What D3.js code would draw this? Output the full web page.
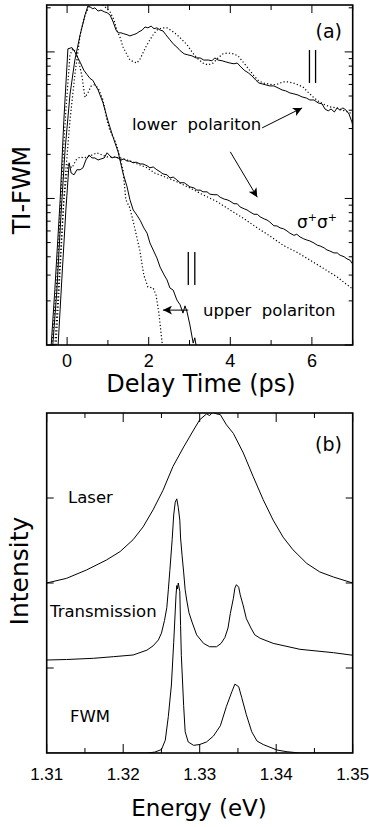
<!DOCTYPE html>
<html><head><meta charset="utf-8">
<script src="https://cdn.jsdelivr.net/npm/d3@7"></script>
<style>
html,body{margin:0;padding:0;background:#fff;}
svg{display:block;}
text{font-family:"DejaVu Sans",sans-serif;fill:#000;}
text.tl{font-family:"Liberation Sans",Arial,sans-serif;}
</style></head><body>
<svg id="c" width="369" height="827"></svg>
<script>
// ---------- Panel (a): TI-FWM vs delay time (ps), log intensity ----------
const delayTicks = [0,1,2,3,4,5,6,7];
const delayLabels = [0,2,4,6];
const lpSolid = [[-0.35,1.0],[-0.25,2.37],[-0.15,7.7],[-0.05,21.4],[0.07,51],[0.19,88],[0.32,131],[0.44,179],[0.51,206],[0.56,203],[0.63,197],[0.68,200],[0.76,190],[0.83,193],[0.91,188],[0.98,185],[1.05,179],[1.13,160],[1.20,141],[1.25,135],[1.32,135],[1.39,133],[1.47,131],[1.54,128.6],[1.62,131],[1.69,133],[1.76,137],[1.84,141],[1.91,148],[1.98,146],[2.06,150],[2.13,144],[2.20,146],[2.28,141],[2.35,139],[2.42,131],[2.52,121],[2.62,112],[2.69,108],[2.77,102],[2.87,97],[2.96,95.5],[3.06,94],[3.16,91],[3.26,91],[3.35,88],[3.46,88],[3.55,87],[3.62,91],[3.70,88],[3.80,87],[3.89,85.5],[3.99,84],[4.09,83],[4.17,84],[4.24,80],[4.34,75],[4.44,72],[4.53,68.6],[4.63,64],[4.70,61.4],[4.78,60.5],[4.87,59.6],[4.97,58.6],[5.07,58.6],[5.17,56.8],[5.27,55],[5.36,54.2],[5.46,52.5],[5.56,51.7],[5.66,50.8],[5.76,49.3],[5.86,48.5],[5.95,47],[6.05,47],[6.15,44.9],[6.25,44.2],[6.32,40.8],[6.40,39.6],[6.47,40.8],[6.55,38.9],[6.62,41.5],[6.69,40],[6.76,41.5],[6.84,40],[6.91,37.7],[6.98,33.3],[7.0,31.7]];
const lpDotted = [[-0.30,1.0],[-0.17,3.8],[-0.05,13.4],[0.07,34],[0.19,69.7],[0.32,131],[0.44,179],[0.56,209],[0.68,219],[0.81,216],[0.93,203],[1.05,188],[1.15,165],[1.22,141],[1.30,125],[1.37,108],[1.47,95.5],[1.54,88],[1.64,85.5],[1.71,84],[1.79,89.6],[1.86,98.5],[1.93,108],[2.03,121],[2.11,131],[2.20,141],[2.33,146],[2.45,146],[2.57,139],[2.69,131],[2.82,121],[2.94,112],[3.06,100],[3.18,91],[3.33,84],[3.45,81.5],[3.58,84],[3.70,91],[3.82,97],[3.94,98.5],[4.07,97],[4.19,94],[4.31,85.5],[4.43,77.8],[4.56,69.7],[4.68,64],[4.80,61.4],[4.93,60.5],[5.05,59.6],[5.17,60.5],[5.29,62.4],[5.41,62.4],[5.54,61.4],[5.66,59.6],[5.78,57.7],[5.90,53.3],[6.03,49.3],[6.15,46.3],[6.27,44.2],[6.44,42.2],[6.61,41.5],[6.76,40],[6.93,38.4],[7.0,37.2]];
const ssSolid = [[-0.22,1.0],[-0.13,2.78],[-0.03,8.35],[0.05,17.5],[0.10,14.9],[0.17,14.5],[0.24,15.7],[0.32,15.7],[0.39,16.2],[0.46,18.3],[0.54,19.8],[0.61,18.9],[0.68,18.9],[0.76,18.3],[0.83,18.6],[0.91,18.9],[0.98,20.5],[1.03,19.8],[1.10,18.9],[1.17,19.2],[1.25,18.9],[1.32,18.3],[1.39,18.6],[1.47,18.0],[1.54,18.0],[1.62,17.5],[1.69,17.7],[1.79,17.2],[1.86,17.2],[1.96,16.7],[2.03,16.2],[2.11,16.4],[2.20,15.7],[2.28,15.2],[2.35,14.7],[2.45,14.5],[2.52,13.8],[2.60,14.0],[2.69,13.4],[2.77,12.8],[2.87,12.8],[2.94,12.4],[3.01,12.0],[3.11,11.8],[3.18,11.4],[3.26,11.4],[3.33,11.1],[3.43,11.1],[3.50,10.7],[3.60,10.6],[3.68,10.6],[3.75,10.2],[3.85,9.9],[3.92,9.8],[3.99,9.6],[4.09,9.2],[4.17,9.2],[4.24,8.75],[4.34,8.5],[4.41,8.35],[4.48,8.1],[4.58,7.8],[4.66,7.8],[4.73,7.5],[4.83,7.25],[4.90,7.13],[4.97,6.9],[5.07,6.5],[5.14,6.5],[5.22,6.3],[5.31,6.2],[5.39,6.0],[5.46,5.8],[5.56,5.6],[5.63,5.7],[5.71,5.46],[5.80,5.3],[5.88,5.2],[5.95,5.13],[6.05,4.97],[6.13,4.8],[6.20,4.74],[6.30,4.6],[6.37,4.45],[6.44,4.38],[6.54,4.25],[6.62,4.25],[6.69,4.1],[6.79,4.0],[6.86,3.87],[6.93,3.8],[7.0,3.57]];
const ssDotted = [[-0.27,1.0],[-0.17,3.25],[-0.08,9.8],[0.02,16.9],[0.12,16.2],[0.22,18.3],[0.32,19.2],[0.41,18.9],[0.51,19.2],[0.61,19.8],[0.73,20.5],[0.86,19.8],[0.98,19.2],[1.13,19.2],[1.30,18.9],[1.47,18.3],[1.62,17.7],[1.79,16.9],[1.96,16.2],[2.15,14.9],[2.35,14.2],[2.52,13.6],[2.69,13.0],[3.01,11.8],[3.33,10.6],[3.68,9.5],[3.99,8.35],[4.31,7.36],[4.66,6.3],[4.97,5.55],[5.29,4.8],[5.63,4.3],[5.95,3.8],[6.27,3.35],[6.62,2.91],[6.93,2.49],[7.0,2.41]];
const upSolid = [[-0.39,1.0],[-0.30,2.4],[-0.17,9.8],[-0.08,34],[0.02,105],[0.12,107],[0.19,100],[0.32,85],[0.41,75],[0.49,70],[0.56,66],[0.63,64],[0.76,55],[0.88,45],[1.00,34],[1.13,26],[1.25,20.8],[1.37,14.9],[1.47,12.0],[1.54,9.8],[1.62,8.35],[1.71,7.7],[1.79,7.1],[1.88,6.3],[1.96,5.8],[2.03,4.97],[2.11,4.45],[2.20,3.93],[2.28,3.4],[2.38,3.0],[2.45,2.78],[2.52,2.45],[2.60,2.37],[2.69,2.03],[2.77,1.88],[2.84,1.65],[2.89,1.85],[2.94,1.68],[3.01,1.37],[3.09,1.03],[3.13,1.12],[3.16,1.0]];
const upDotted = [[-0.37,1.0],[-0.25,2.78],[-0.13,13.4],[-0.03,40],[0.07,95],[0.14,105],[0.22,100],[0.29,85],[0.37,67],[0.41,55],[0.44,49],[0.51,52.5],[0.59,58.6],[0.66,59.6],[0.76,56.8],[0.88,47],[0.98,34],[1.05,29],[1.17,25],[1.25,21.4],[1.37,15.7],[1.44,9.8],[1.54,8.6],[1.64,6.6],[1.78,4.45],[1.88,3.0],[1.98,2.49],[2.11,2.45],[2.18,2.19],[2.25,1.65],[2.33,1.03]];

// ---------- Panel (b): spectra vs energy (eV), offset linear ----------
const energyTicks = [1.31,1.315,1.32,1.325,1.33,1.335,1.34,1.345,1.35];
const energyLabels = ["1.31","1.32","1.33","1.34","1.35"];
const intensityTicks = [1,2,3];
const laser = [[1.3100,2.00],[1.3126,2.055],[1.3152,2.153],[1.3178,2.27],[1.3196,2.37],[1.3213,2.51],[1.3226,2.66],[1.3239,2.86],[1.3252,3.09],[1.3265,3.37],[1.3279,3.60],[1.3292,3.80],[1.3300,3.92],[1.3309,3.99],[1.3313,3.97],[1.3317,4.01],[1.3322,3.99],[1.3327,3.98],[1.3335,3.86],[1.3344,3.76],[1.3357,3.53],[1.3370,3.25],[1.3383,2.98],[1.3396,2.74],[1.3409,2.54],[1.3422,2.39],[1.3440,2.23],[1.3457,2.13],[1.3475,2.07],[1.3500,2.00]];
const transmission = [[1.3100,1.094],[1.3126,1.10],[1.3161,1.114],[1.3187,1.133],[1.3213,1.153],[1.3231,1.21],[1.3239,1.26],[1.3246,1.33],[1.3250,1.41],[1.3254,1.56],[1.3257,1.71],[1.3259,1.92],[1.3261,2.15],[1.3264,2.51],[1.3266,2.80],[1.3268,2.95],[1.3270,2.99],[1.3272,2.89],[1.3274,2.74],[1.3275,2.53],[1.3277,2.32],[1.3279,2.13],[1.3281,1.92],[1.3283,1.80],[1.3286,1.65],[1.3290,1.54],[1.3296,1.39],[1.3305,1.29],[1.3313,1.25],[1.3322,1.25],[1.3328,1.29],[1.3333,1.36],[1.3337,1.47],[1.3340,1.64],[1.3344,1.82],[1.3346,1.94],[1.3348,1.98],[1.3351,1.95],[1.3353,1.86],[1.3357,1.73],[1.3361,1.58],[1.3367,1.47],[1.3372,1.39],[1.3379,1.35],[1.3396,1.29],[1.3431,1.22],[1.3475,1.18],[1.3500,1.15]];
const fwm = [[1.3100,0],[1.3231,0],[1.3241,0.01],[1.3250,0.04],[1.3255,0.15],[1.3259,0.43],[1.3263,0.8],[1.3266,1.3],[1.3269,1.85],[1.3270,1.97],[1.3271,1.93],[1.3272,2.0],[1.3274,1.9],[1.3275,1.5],[1.3276,1.15],[1.3279,0.56],[1.3281,0.25],[1.3285,0.13],[1.3292,0.09],[1.3300,0.1],[1.3309,0.13],[1.3318,0.2],[1.3327,0.32],[1.3335,0.55],[1.3342,0.72],[1.3346,0.81],[1.3351,0.78],[1.3355,0.65],[1.3361,0.45],[1.3368,0.25],[1.3375,0.14],[1.3383,0.1],[1.3401,0.035],[1.3414,0.015],[1.3431,0],[1.3500,0]];

// ---------- drawing ----------
const svg = d3.select("#c");
const A = {l:46.7, r:352.7, t:5, b:345};
const B = {l:46.7, r:352.7, t:413, b:753};
const xA = d3.scaleLinear().domain([-0.5,7]).range([A.l,A.r]);
const yA = d3.scaleLog().domain([1,209]).range([A.b,A.t]);
const xB = d3.scaleLinear().domain([1.31,1.35]).range([B.l,B.r]);
const yB = d3.scaleLinear().domain([0,4]).range([B.b,B.t]);

const defs = svg.append("defs");
[["clipA",A],["clipB",B]].forEach(([id,P])=>{
  defs.append("clipPath").attr("id",id).append("rect")
    .attr("x",P.l).attr("y",P.t).attr("width",P.r-P.l).attr("height",P.b-P.t);
});
defs.append("marker").attr("id","arr").attr("viewBox","0 0 10 10")
  .attr("refX",10).attr("refY",5).attr("markerWidth",11).attr("markerHeight",9)
  .attr("markerUnits","userSpaceOnUse").attr("orient","auto")
  .append("path").attr("d","M0,0 L10,5 L0,10 L2.5,5 Z").attr("fill","#000");

function frame(P){
  svg.append("rect").attr("x",P.l).attr("y",P.t).attr("width",P.r-P.l).attr("height",P.b-P.t)
    .attr("fill","none").attr("stroke","#000").attr("stroke-width",1.6);
}
function tick(x1,y1,x2,y2){
  svg.append("line").attr("x1",x1).attr("y1",y1).attr("x2",x2).attr("y2",y2)
    .attr("stroke","#000").attr("stroke-width",1);
}

// Panel (a) ticks
delayTicks.forEach(v=>{
  const len = v%2===0 ? 8 : 5, x = xA(v);
  tick(x,A.b,x,A.b-len); tick(x,A.t,x,A.t+len);
});
yA.ticks().forEach(v=>{
  const lg = Math.log10(v), major = Math.abs(lg-Math.round(lg))<1e-9;
  const len = major ? 8 : 4, y = yA(v);
  if (y < A.t-0.5 || y > A.b+0.5) return;
  tick(A.l,y,A.l+len,y); tick(A.r,y,A.r-len,y);
});
delayLabels.forEach(v=>{
  svg.append("text").attr("class","tl").attr("x",xA(v)).attr("y",367).attr("text-anchor","middle")
    .attr("font-size",18).text(v);
});

const lineA = d3.line().x(d=>xA(d[0])).y(d=>yA(d[1]));
const gA = svg.append("g").attr("clip-path","url(#clipA)");
function curveA(data,dotted){
  gA.append("path").attr("d",lineA(data)).attr("fill","none").attr("stroke","#000")
    .attr("stroke-width",dotted?1.2:1).attr("stroke-dasharray",dotted?"1.2 2.2":null);
}
curveA(lpDotted,true); curveA(lpSolid,false);
curveA(ssDotted,true); curveA(ssSolid,false);
curveA(upDotted,true); curveA(upSolid,false);
frame(A);

// annotations (a)
function arrow(x1,y1,x2,y2){
  svg.append("line").attr("x1",x1).attr("y1",y1).attr("x2",x2).attr("y2",y2)
    .attr("stroke","#000").attr("stroke-width",1).attr("marker-end","url(#arr)");
}
function dbl(t1,t2,v1,v2){
  [t1,t2].forEach(t=>svg.append("line").attr("x1",xA(t)).attr("x2",xA(t))
    .attr("y1",yA(v1)).attr("y2",yA(v2)).attr("stroke","#000").attr("stroke-width",1.3));
}
arrow(xA(4.78),yA(30.3),xA(5.76),yA(41.5));
arrow(xA(4.0),yA(20.8),xA(4.66),yA(10.2));
arrow(xA(2.97),yA(1.73),xA(2.35),yA(1.73));
dbl(5.94,6.09,103,61.4);
dbl(2.97,3.13,4.31,2.57);

svg.append("text").attr("x",342).attr("y",38).attr("text-anchor","end").attr("font-size",19).text("(a)");
svg.append("text").attr("x",132).attr("y",130).attr("font-size",16.5).attr("xml:space","preserve")
  .style("white-space","pre").text("lower  polariton");
svg.append("text").attr("x",203).attr("y",316).attr("font-size",16.5).attr("xml:space","preserve")
  .style("white-space","pre").text("upper  polariton");
const ss = svg.append("text").attr("x",297).attr("y",228).attr("font-size",17);
ss.append("tspan").text("σ");
ss.append("tspan").attr("dy",-7).attr("font-size",11).text("+");
ss.append("tspan").attr("dy",7).text("σ");
ss.append("tspan").attr("dy",-7).attr("font-size",11).text("+");

svg.append("text").attr("x",201).attr("y",392).attr("text-anchor","middle").attr("font-size",24).text("Delay Time (ps)");
svg.append("text").attr("transform","translate(30,190) rotate(-90)").attr("text-anchor","middle")
  .attr("font-size",24).text("TI-FWM");

// Panel (b) ticks
energyTicks.forEach((v,i)=>{
  const len = i%2===0 ? 9 : 5, x = xB(v);
  tick(x,B.b,x,B.b-len); tick(x,B.t,x,B.t+len);
});
intensityTicks.forEach(v=>{
  const y = yB(v);
  tick(B.l,y,B.l+7,y); tick(B.r,y,B.r-7,y);
});
energyLabels.forEach(s=>{
  svg.append("text").attr("class","tl").attr("x",xB(+s)).attr("y",780).attr("text-anchor","middle")
    .attr("font-size",17).text(s);
});

const lineB = d3.line().x(d=>xB(d[0])).y(d=>yB(d[1]));
const gB = svg.append("g").attr("clip-path","url(#clipB)");
[laser,transmission,fwm].forEach(d=>{
  gB.append("path").attr("d",lineB(d)).attr("fill","none").attr("stroke","#000").attr("stroke-width",1);
});
frame(B);

svg.append("text").attr("x",342).attr("y",451).attr("text-anchor","end").attr("font-size",19).text("(b)");
svg.append("text").attr("x",68).attr("y",503).attr("font-size",16.5).text("Laser");
svg.append("text").attr("x",50).attr("y",617).attr("font-size",16.5).text("Transmission");
svg.append("text").attr("x",70).attr("y",722).attr("font-size",16.5).text("FWM");
svg.append("text").attr("x",199).attr("y",816).attr("text-anchor","middle").attr("font-size",23).text("Energy (eV)");
svg.append("text").attr("transform","translate(28,571) rotate(-90)").attr("text-anchor","middle")
  .attr("font-size",25).text("Intensity");
</script>
</body></html>
